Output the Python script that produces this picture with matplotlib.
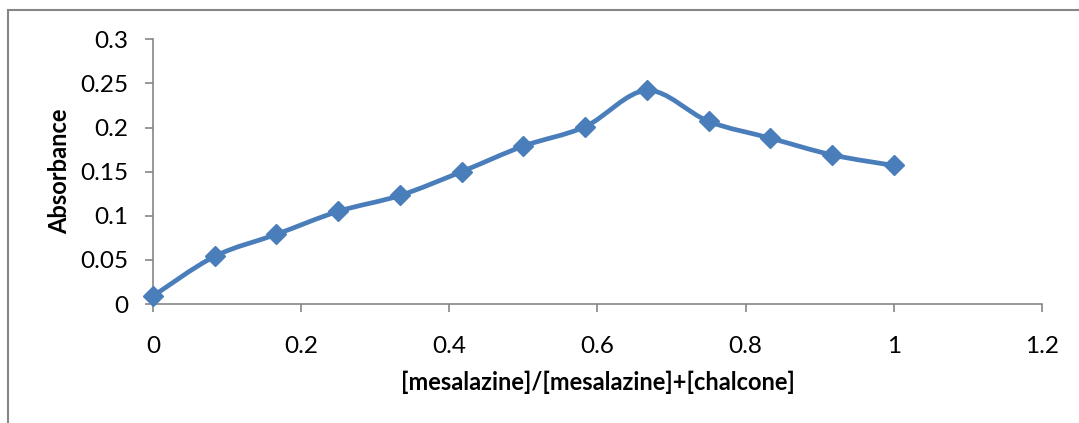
import matplotlib
matplotlib.use("Agg")
import matplotlib.pyplot as plt
from matplotlib.path import Path
from matplotlib.patches import PathPatch, Rectangle

plt.rcParams['font.family'] = ['Lato', 'DejaVu Sans']

# mole fraction of mesalazine (steps of 1/12) and measured absorbance
mole_fraction = [0, 1/12, 2/12, 3/12, 4/12, 5/12, 6/12, 7/12, 8/12, 9/12, 10/12, 11/12, 1]
absorbance = [0.009, 0.054, 0.079, 0.105, 0.123, 0.150, 0.179, 0.201, 0.242, 0.207, 0.188, 0.169, 0.157]

x_ticks = [0, 0.2, 0.4, 0.6, 0.8, 1, 1.2]
x_ticklabels = ['0', '0.2', '0.4', '0.6', '0.8', '1', '1.2']
y_ticks = [0, 0.05, 0.1, 0.15, 0.2, 0.25, 0.3]
y_ticklabels = ['0', '0.05', '0.1', '0.15', '0.2', '0.25', '0.3']

blue = '#4a7ebb'
grey = '#868686'

fig = plt.figure(figsize=(10.79, 4.23), dpi=100)
ax = fig.add_axes([0.1418, 0.2813, 0.8239, 0.6258])

# excel style smoothed line: cubic bezier through the points
verts = [(mole_fraction[0], absorbance[0])]
codes = [Path.MOVETO]
n = len(mole_fraction)
for i in range(n - 1):
    p0 = (mole_fraction[max(i - 1, 0)], absorbance[max(i - 1, 0)])
    p1 = (mole_fraction[i], absorbance[i])
    p2 = (mole_fraction[i + 1], absorbance[i + 1])
    p3 = (mole_fraction[min(i + 2, n - 1)], absorbance[min(i + 2, n - 1)])
    c1 = (p1[0] + (p2[0] - p0[0]) / 6, p1[1] + (p2[1] - p0[1]) / 6)
    c2 = (p2[0] - (p3[0] - p1[0]) / 6, p2[1] - (p3[1] - p1[1]) / 6)
    verts += [c1, c2, p2]
    codes += [Path.CURVE4] * 3
ax.add_patch(PathPatch(Path(verts, codes), facecolor='none', edgecolor=blue,
                       lw=3.4, capstyle='round', joinstyle='round', zorder=2))
ax.plot(mole_fraction, absorbance, linestyle='none', marker='D', markersize=10.5,
        color=blue, zorder=3, clip_on=False)

ax.set_xlim(0, 1.2)
ax.set_ylim(0, 0.3)
ax.set_xticks(x_ticks)
ax.set_xticklabels(x_ticklabels)
ax.set_yticks(y_ticks)
ax.set_yticklabels(y_ticklabels)
ax.tick_params(axis='both', direction='out', length=6, width=1.2, color=grey,
               labelsize=17.5)
ax.tick_params(axis='x', pad=17)
ax.tick_params(axis='y', pad=12)
for s in ['top', 'right']:
    ax.spines[s].set_visible(False)
for s in ['left', 'bottom']:
    ax.spines[s].set_color(grey)
    ax.spines[s].set_linewidth(1.2)

ax.set_xlabel('[mesalazine]/[mesalazine]+[chalcone]', fontsize=17,
              fontweight='bold', labelpad=10)
ax.set_ylabel('Absorbance', fontsize=17, fontweight='bold', labelpad=6)

# chart area border
fig.patches.append(Rectangle((8 / 1079, -0.05), 1.1, 0.976 + 0.05,
                             transform=fig.transFigure, fill=False,
                             edgecolor=grey, lw=1.5))

fig.savefig('out.png', dpi=100)
